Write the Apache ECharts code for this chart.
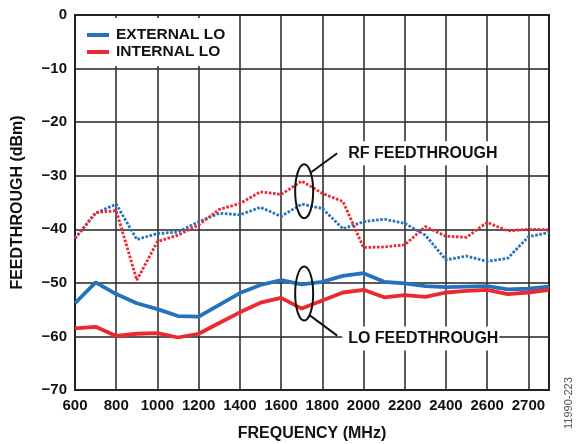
<!DOCTYPE html>
<html>
<head>
<meta charset="utf-8">
<script src="https://cdn.jsdelivr.net/npm/echarts@6/dist/echarts.min.js"></script>
<style>
  html, body { margin: 0; padding: 0; background: #fff; }
  #chart { width: 578px; height: 444px; }
</style>
</head>
<body>
<div id="chart"></div>
<script>
// frequency points (MHz, axis positions)
const freqs = [600, 700, 800, 900, 1000, 1100, 1200, 1300, 1400, 1500, 1600, 1700,
  1800, 1900, 2000, 2100, 2200, 2300, 2400, 2500, 2600, 2700, 2800, 2900]

// LO feedthrough (solid)
const extLo = [-53.8, -49.9, -52.1, -53.8, -54.9, -56.2, -56.3, -54.1, -51.9, -50.4, -49.5, -50.3,
  -49.8, -48.7, -48.2, -49.8, -50.1, -50.6, -50.8, -50.7, -50.6, -51.2, -51.1, -50.7]
const intLo = [-58.5, -58.2, -59.9, -59.5, -59.4, -60.2, -59.5, -57.5, -55.5, -53.7, -52.8, -54.8,
  -53.3, -51.8, -51.3, -52.7, -52.3, -52.6, -51.8, -51.5, -51.3, -52.1, -51.8, -51.3]

// RF feedthrough (dotted)
const extRf = [-41.7, -37.0, -35.3, -41.9, -40.8, -40.5, -38.6, -37.0, -37.3, -35.9, -37.6, -35.3,
  -36.1, -39.9, -38.6, -38.1, -38.9, -41.1, -45.7, -45.0, -46.0, -45.4, -41.4, -40.6]
const intRf = [-41.7, -36.9, -36.5, -49.5, -42.3, -41.1, -39.2, -36.3, -35.2, -33.0, -33.5, -31.0,
  -33.3, -34.8, -43.4, -43.3, -42.9, -39.5, -41.3, -41.5, -38.7, -40.3, -40.0, -40.1]

// x tick labels as printed (last one reads 2700)
const xTickValues = [600, 800, 1000, 1200, 1400, 1600, 1800, 2000, 2200, 2400, 2600, 2800]
const xTickLabels = ['600', '800', '1000', '1200', '1400', '1600', '1800', '2000', '2200', '2400', '2600', '2700']

const BLUE = '#2472be'
const RED = '#ec2830'
const FONT = 'Arial, "Liberation Sans", sans-serif'

function pairs(ys) {
  return freqs.map((f, i) => [f, ys[i]])
}

let chart = echarts.init(document.getElementById('chart'))
chart.setOption({
  animation: false,
  grid: {
    left: 75,
    right: 29,
    top: 15,
    bottom: 54,
    outerBoundsMode: 'none',
    show: true,
    borderColor: '#222',
    borderWidth: 2,
    z: 3
  },
  legend: {
    data: ['EXTERNAL LO', 'INTERNAL LO'],
    orient: 'vertical',
    left: 79,
    top: 18,
    padding: [9, 6, 6, 8],
    backgroundColor: '#fff',
    icon: 'rect',
    itemWidth: 22,
    itemHeight: 4,
    itemGap: 1,
    z: 10,
    textStyle: {
      fontFamily: FONT,
      fontWeight: 'bold',
      fontSize: 15.5,
      color: '#111',
      lineHeight: 15,
      padding: [0, 0, 0, 2]
    }
  },
  xAxis: {
    type: 'value',
    min: 600,
    max: 2900,
    interval: 200,
    name: 'FREQUENCY (MHz)',
    nameLocation: 'middle',
    nameGap: 36,
    nameTextStyle: { fontFamily: FONT, fontWeight: 'bold', fontSize: 16, color: '#111' },
    axisLine: { lineStyle: { color: '#111', width: 2 } },
    axisTick: { show: false },
    axisLabel: {
      margin: 8,
      fontFamily: FONT,
      fontWeight: 'bold',
      fontSize: 15,
      color: '#111',
      formatter: v => {
        let i = xTickValues.indexOf(v)
        return i >= 0 ? xTickLabels[i] : ''
      }
    },
    splitLine: { show: true, lineStyle: { color: '#333', width: 1.6 } }
  },
  yAxis: {
    type: 'value',
    min: -70,
    max: 0,
    interval: 10,
    name: 'FEEDTHROUGH (dBm)',
    nameLocation: 'middle',
    nameGap: 49,
    nameTextStyle: { fontFamily: FONT, fontWeight: 'bold', fontSize: 16, color: '#111' },
    axisLine: { show: true, lineStyle: { color: '#111', width: 2 } },
    axisTick: { show: false },
    axisLabel: {
      margin: 8,
      fontFamily: FONT,
      fontWeight: 'bold',
      fontSize: 15,
      color: '#111',
      formatter: v => (v < 0 ? '\u2212' + (-v) : String(v))
    },
    splitLine: { show: true, lineStyle: { color: '#222', width: 1.6 } }
  },
  series: [
    {
      name: 'EXTERNAL LO RF',
      type: 'line',
      data: pairs(extRf),
      symbol: 'none',
      z: 4,
      lineStyle: { color: BLUE, width: 2.8, type: [2.6, 1.6] },
      itemStyle: { color: BLUE }
    },
    {
      name: 'INTERNAL LO RF',
      type: 'line',
      data: pairs(intRf),
      symbol: 'none',
      z: 4,
      lineStyle: { color: RED, width: 2.8, type: [2.6, 1.6] },
      itemStyle: { color: RED }
    },
    {
      name: 'EXTERNAL LO',
      type: 'line',
      data: pairs(extLo),
      symbol: 'none',
      z: 5,
      lineStyle: { color: BLUE, width: 3.8 },
      itemStyle: { color: BLUE }
    },
    {
      name: 'INTERNAL LO',
      type: 'line',
      data: pairs(intLo),
      symbol: 'none',
      z: 5,
      lineStyle: { color: RED, width: 3.8 },
      itemStyle: { color: RED }
    }
  ]
})

// annotations: ellipses around the 1700 MHz points, leader lines and labels
let rf = chart.convertToPixel({ gridIndex: 0 }, [1712, -32.9])
let lo = chart.convertToPixel({ gridIndex: 0 }, [1712, -52.0])
let labelFont = 'bold 16px ' + FONT
chart.setOption({
  graphic: [
    {
      type: 'ellipse',
      shape: { cx: rf[0], cy: rf[1], rx: 9, ry: 27 },
      style: { fill: null, stroke: '#111', lineWidth: 2 },
      z: 20
    },
    {
      type: 'ellipse',
      shape: { cx: lo[0], cy: lo[1], rx: 9, ry: 27 },
      style: { fill: null, stroke: '#111', lineWidth: 2 },
      z: 20
    },
    {
      type: 'line',
      shape: { x1: rf[0] + 7, y1: rf[1] - 19, x2: rf[0] + 33, y2: rf[1] - 38 },
      style: { stroke: '#111', lineWidth: 2 },
      z: 20
    },
    {
      type: 'line',
      shape: { x1: lo[0] + 6, y1: lo[1] + 22, x2: lo[0] + 33, y2: lo[1] + 42 },
      style: { stroke: '#111', lineWidth: 2 },
      z: 20
    },
    {
      type: 'text',
      x: rf[0] + 38,
      y: rf[1] - 50,
      style: {
        text: 'RF FEEDTHROUGH',
        font: labelFont,
        fill: '#111',
        backgroundColor: '#fff',
        padding: [4, 6, 4, 6]
      },
      z: 19
    },
    {
      type: 'text',
      x: lo[0] + 38,
      y: lo[1] + 33,
      style: {
        text: 'LO FEEDTHROUGH',
        font: labelFont,
        fill: '#111',
        backgroundColor: '#fff',
        padding: [4, 1, 4, 6]
      },
      z: 19
    },
    {
      type: 'text',
      x: 563,
      y: 429,
      rotation: Math.PI / 2,
      style: {
        text: '11990-223',
        font: '11px ' + FONT,
        fill: '#555'
      }
    }
  ]
})
</script>
</body>
</html>
